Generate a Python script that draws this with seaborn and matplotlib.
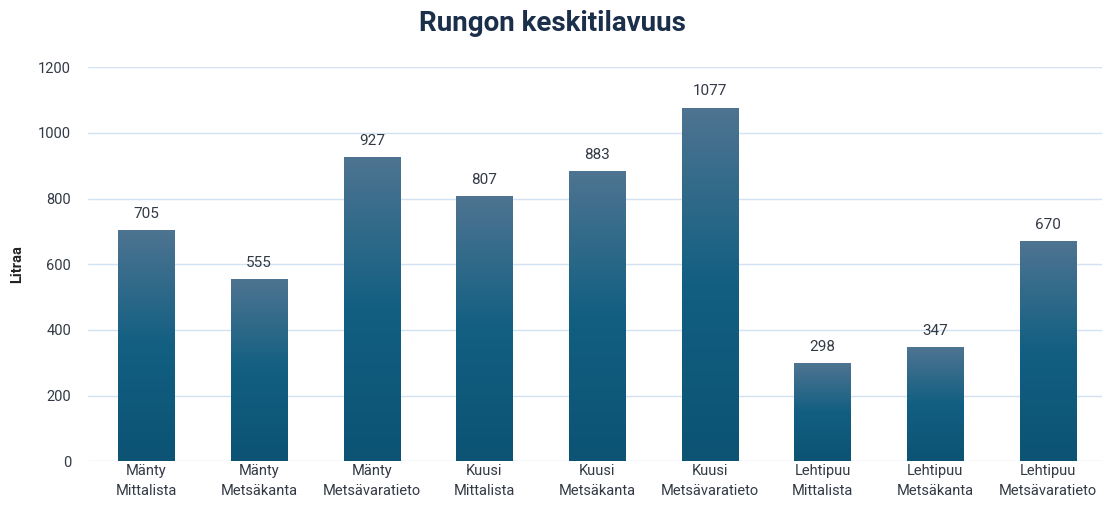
import numpy as np
import pandas as pd
import matplotlib
matplotlib.use("Agg")
import matplotlib.pyplot as plt
import seaborn as sns
from matplotlib.colors import LinearSegmentedColormap

categories = ["Mänty\nMittalista", "Mänty\nMetsäkanta", "Mänty\nMetsävaratieto",
              "Kuusi\nMittalista", "Kuusi\nMetsäkanta", "Kuusi\nMetsävaratieto",
              "Lehtipuu\nMittalista", "Lehtipuu\nMetsäkanta", "Lehtipuu\nMetsävaratieto"]
values = [705, 555, 927, 807, 883, 1077, 298, 347, 670]
yticks = [0, 200, 400, 600, 800, 1000, 1200]

sns.set_theme(style="white")
plt.rcParams['font.family'] = ['Roboto', 'DejaVu Sans']

df = pd.DataFrame({"cat": categories, "val": values})
fig = plt.figure(figsize=(11.12, 5.17), dpi=100)
ax = fig.add_axes([0.079, 0.108, 0.912, 0.762])
sns.barplot(data=df, x="cat", y="val", color="#135f82", width=0.5, ax=ax, zorder=3)

cmap = LinearSegmentedColormap.from_list("g", ["#0c5374", "#125f82", "#4e7491"])
grad = np.linspace(0, 1, 256).reshape(-1, 1)
for p in ax.patches:
    x0, y0 = p.get_x(), p.get_y()
    w, h = p.get_width(), p.get_height()
    im = ax.imshow(grad, cmap=cmap, origin="lower", aspect="auto",
                   extent=[x0, x0 + w, y0, y0 + h], zorder=3)
    im.set_clip_path(p)
    p.set_facecolor("none")
    p.set_edgecolor("none")

for i, v in enumerate(values):
    ax.text(i, v + 28, str(v), ha="center", va="bottom", fontsize=11, color="#333a45")

ax.set_xlim(-0.52, 8.48)
ax.set_ylim(0, 1200)
ax.set_yticks(yticks)
ax.set_yticklabels([str(t) for t in yticks], fontsize=10.5, color="#333a45")
ax.tick_params(axis="x", labelsize=10.5, colors="#333a45", length=0, pad=2)
for lbl in ax.get_xticklabels():
    lbl.set_linespacing(1.55)
ax.tick_params(axis="y", length=0, pad=12)
ax.grid(axis="y", color="#d3e2f2", linewidth=1, zorder=0)
for s in ax.spines.values():
    s.set_visible(False)
ax.set_xlabel("")
ax.set_ylabel("Litraa", fontsize=10.5, fontweight="bold", color="#222222")
ax.yaxis.set_label_coords(-0.063, 0.5)
fig.text(0.497, 0.955, "Rungon keskitilavuus", ha="center", va="center",
         fontsize=20, fontweight="bold", color="#1b2f4b")
fig.savefig("out.png", dpi=100)
